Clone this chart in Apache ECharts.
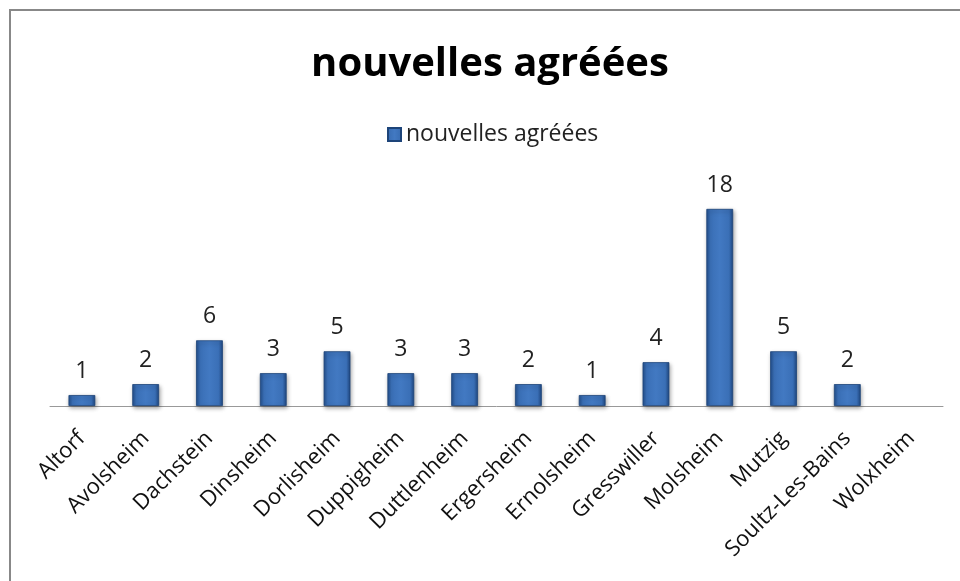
<!DOCTYPE html>
<html><head><meta charset="utf-8">
<script src="https://cdn.jsdelivr.net/npm/echarts@6/dist/echarts.min.js"></script>
<style>html,body{margin:0;padding:0;background:#fff}#c{width:960px;height:581px}</style>
</head><body><div id="c"></div>
<script>
const titleText = "nouvelles agréées";
const seriesName = "nouvelles agréées";
const categories = ["Altorf","Avolsheim","Dachstein","Dinsheim","Dorlisheim","Duppigheim","Duttlenheim","Ergersheim","Ernolsheim","Gresswiller","Molsheim","Mutzig","Soultz-Les-Bains","Wolxheim"];
const values = [1,2,6,3,5,3,3,2,1,4,18,5,2,null];

const chart = echarts.init(document.getElementById('c'));
const barColor = new echarts.graphic.LinearGradient(0,0,1,0,[
  {offset:0,color:'#234f8c'},
  {offset:0.15,color:'#3a6fb6'},
  {offset:0.5,color:'#4279c2'},
  {offset:0.85,color:'#3a6fb6'},
  {offset:1,color:'#1f4781'}
]);
chart.setOption({
  backgroundColor:'#fff',
  animation:false,
  title:{text:titleText,left:485,top:40,textAlign:'center',
    textStyle:{fontFamily:'Open Sans',fontWeight:'bold',fontSize:40,color:'#000'}},
  legend:{data:[seriesName],top:118,left:382,itemWidth:13,itemHeight:13,itemGap:7,
    icon:'rect',
    textStyle:{fontFamily:'Open Sans',fontSize:23,color:'#222'}},
  grid:{left:50,right:17,top:187,bottom:175},
  xAxis:{type:'category',data:categories,
    axisLine:{lineStyle:{color:'#999',width:1}},
    axisTick:{show:false},
    axisLabel:{rotate:45,interval:0,margin:29,fontFamily:'Open Sans',fontSize:22,color:'#111'}},
  yAxis:{type:'value',min:0,max:20,show:false,splitLine:{show:false}},
  series:[{name:seriesName,type:'bar',data:values,barWidth:'42%',
    itemStyle:{color:barColor,borderColor:'#1d4479',borderWidth:0.8,
      shadowColor:'rgba(0,0,0,0.35)',shadowBlur:4,shadowOffsetX:1,shadowOffsetY:2},
    label:{show:true,position:'top',distance:12,fontFamily:'Open Sans',fontSize:23,color:'#222'}}],
  graphic:[{type:'rect',shape:{x:10,y:10,width:960,height:580},
    style:{fill:'none',stroke:'#888',lineWidth:2},silent:true}]
});
</script></body></html>
